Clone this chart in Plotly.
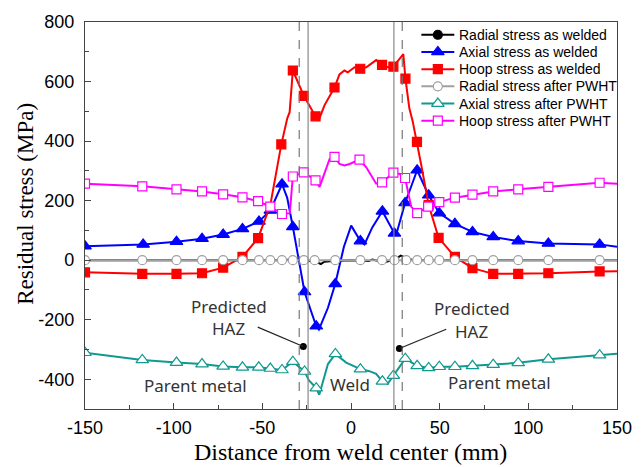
import plotly.graph_objects as go

# ---------------- data ----------------
# Hoop stress as welded
hoop_w_x = [-150, -117.7, -98.4, -84, -72.1, -61.2, -52.4, -45.5, -39.3, -35.9, -34.6, -32.8, -26.6, -20, -18.1,
            -14.9, -9.3, -6.5, -3.7, -1.8, 2, 5.2, 8.6, 14.2, 17.5, 20.7, 23.9, 27.3, 29.5, 30.7, 32.9, 34.8,
            37.2, 39.5, 43.8, 46, 49.4, 58.6, 68.5, 80.2, 94.3, 111.3, 140.2, 150]
hoop_w_y = [-41, -46, -46, -44, -25, 11, 74, 185, 389, 477, 497, 637, 552, 483, 472,
            521, 580, 624, 637, 631, 648, 643, 648, 672, 656, 648, 650, 678, 692, 610, 510, 466,
            397, 323, 185, 141, 75, 11, -27, -46, -46, -44, -38, -37]
hoop_w_m = [1, 1, 1, 1, 1, 1, 1, 0, 1, 0, 0, 1, 1, 1, 0,
            0, 1, 0, 0, 0, 0, 1, 0, 0, 1, 0, 1, 0, 0, 1, 0, 0,
            1, 0, 1, 0, 1, 1, 1, 1, 1, 1, 1, 0]

# Axial stress as welded
ax_w_x = [-150, -117.2, -98.4, -84, -72.1, -61.2, -51.9, -45.5, -38.9, -36, -32.8, -29.5, -26.2, -19.6, -18.1,
          -13, -8.9, -4, 0.1, 5.3, 7.6, 12, 17.7, 24.5, 25.4, 30.5, 37.3, 43.8, 49.8, 58.6, 68.5, 80.2,
          94.3, 111.3, 140.2, 150]
ax_w_y = [47, 53, 62, 72, 86, 105, 130, 167, 255, 210, 112, 0, -107, -222, -233,
          -160, -80, 45, 116, 64, 53, 110, 164, 90, 84, 192, 302, 218, 158, 122, 95, 78,
          64, 56, 53, 45]
ax_w_m = [1, 1, 1, 1, 1, 1, 1, 1, 1, 0, 1, 0, 1, 1, 0,
          0, 1, 0, 0, 1, 0, 0, 1, 1, 0, 1, 1, 1, 1, 1, 1, 1,
          1, 1, 1, 0]

# Radial stress as welded
rad_w_x = [-150, -40, -30, -25, -20, -17, -15, -10, 0, 10, 12, 15, 20, 25, 28, 30, 35, 50, 150]
rad_w_y = [0, 0, 3, -2, -5, -13, -5, -3, 0, -3, 2, -2, -5, 3, 15, 10, 0, 0, 0]

# Radial stress after PWHT
rad_p_x = [-150, -117.7, -98.4, -84, -72.1, -61.2, -51.9, -45.5, -38.9, -32.8, -26.6, -20.5, -8.9,
           5.3, 17.5, 24.5, 31.1, 37.3, 43.8, 49.8, 58.6, 68.5, 80.2, 94.3, 111.3, 140.2, 150]
rad_p_y = [0, 0, 0, 0, 0, 0, 0, 0, 0, 0, 0, 0, 0,
           0, 0, 0, 0, 0, 0, 0, 0, 0, 0, 0, 0, 0, 0]
rad_p_m = [1, 1, 1, 1, 1, 1, 1, 1, 1, 1, 1, 1, 1,
           1, 1, 1, 1, 1, 1, 1, 1, 1, 1, 1, 1, 1, 0]

# Axial stress after PWHT
ax_p_x = [-150, -117.7, -98.4, -84, -72.1, -61.2, -52, -45.5, -38.9, -32.8, -26.2, -23.7, -19.6, -17.9,
          -13, -8.8, -2.7, 5.3, 10, 14.2, 17.7, 20.7, 23.9, 30.6, 37.3, 43.8, 49.8, 58.6, 68.5, 80.2,
          94.3, 111.3, 140.2, 150]
ax_p_y = [-311, -335, -344, -349, -357, -360, -360, -364, -369, -341, -374, -404, -430, -452,
          -349, -315, -344, -366, -372, -382, -407, -415, -388, -331, -355, -362, -358, -358, -355, -351,
          -345, -333, -319, -314]
ax_p_m = [1, 1, 1, 1, 1, 1, 1, 1, 1, 1, 1, 0, 1, 0,
          0, 1, 0, 1, 0, 0, 1, 0, 1, 1, 1, 1, 1, 1, 1, 1,
          1, 1, 1, 0]

# Hoop stress after PWHT
hoop_p_x = [-150, -117.7, -98.4, -84, -72.1, -61.2, -52.4, -45.5, -38.9, -34.5, -32.8, -26.6, -20, -17.7,
            -12.1, -9.3, -6.5, -3.7, -0.8, 4.8, 8.6, 14.2, 17.5, 23.9, 27.3, 30.5, 33.9, 37.3, 43.5, 49.8,
            58.6, 68.5, 80.2, 94.3, 111.3, 140.2, 150]
hoop_p_y = [257, 248, 238, 231, 221, 211, 198, 180, 155, 158, 281, 295, 268, 246,
            339, 347, 323, 318, 323, 338, 312, 257, 261, 294, 290, 276, 180, 158, 180, 195,
            210, 220, 231, 238, 246, 260, 257]
hoop_p_m = [1, 1, 1, 1, 1, 1, 1, 1, 1, 0, 1, 1, 1, 0,
            0, 1, 0, 0, 0, 1, 0, 0, 1, 1, 0, 1, 0, 1, 1, 1,
            1, 1, 1, 1, 1, 1, 0]

legend_names = ["Radial stress as welded", "Axial stress as welded", "Hoop stress as welded",
                "Radial stress after PWHT", "Axial stress after PWHT", "Hoop stress after PWHT"]

x_ticks = [-150, -100, -50, 0, 50, 100, 150]
y_ticks = [-400, -200, 0, 200, 400, 600, 800]
haz_solid = [-24.2, 24.2]
haz_dash = [-29.2, 28.9]

TEAL = "#11998f"
GRAY = "#a0a0a0"

series = [
    # x, y, mask, color, symbol, fill, size
    (rad_w_x, rad_w_y, None, "black", "circle", "black", 9),
    (ax_w_x, ax_w_y, ax_w_m, "#0000ff", "triangle-up", "#0000ff", 11),
    (hoop_w_x, hoop_w_y, hoop_w_m, "#ff0000", "square", "#ff0000", 9),
    (rad_p_x, rad_p_y, rad_p_m, GRAY, "circle", "white", 9),
    (ax_p_x, ax_p_y, ax_p_m, TEAL, "triangle-up", "white", 11),
    (hoop_p_x, hoop_p_y, hoop_p_m, "#ff00ff", "square", "white", 9),
]

# plot-area pixel geometry (644x467 page)
L, R, T, B = 85, 618, 15, 409


def px2paper_x(px):
    return (px - L) / (R - L)


def px2paper_y(py):
    return (B - py) / (B - T)


fig = go.Figure()
for xs, ys, mask, col, sym, fill, size in series:
    fig.add_trace(go.Scatter(x=xs, y=ys, mode="lines", line=dict(color=col, width=2),
                             showlegend=False, hoverinfo="skip"))
    if mask is not None:
        mx = [a for a, m in zip(xs, mask) if m]
        my = [b for b, m in zip(ys, mask) if m]
        fig.add_trace(go.Scatter(x=mx, y=my, mode="markers",
                                 marker=dict(symbol=sym, size=size, color=fill,
                                             line=dict(color=col, width=1.2)),
                                 showlegend=False, hoverinfo="skip"))

# HAZ dots
fig.add_trace(go.Scatter(x=[-26.9, 27.3], y=[-290, -297], mode="markers",
                         marker=dict(color="black", size=7), showlegend=False, hoverinfo="skip"))

# custom legend (drawn on an overlay axis spanning the plot area in 0..1 units)
leg_x0, leg_x1, leg_txt = px2paper_x(422), px2paper_x(455), px2paper_x(458)
annotations = []
for i, (name, s) in enumerate(zip(legend_names, series)):
    xs, ys, mask, col, sym, fill, size = s
    yc = px2paper_y(28 + i * 17.5)
    fig.add_trace(go.Scatter(x=[leg_x0, leg_x1], y=[yc, yc], xaxis="x2", yaxis="y2", mode="lines",
                             line=dict(color=col, width=2), showlegend=False, hoverinfo="skip"))
    fig.add_trace(go.Scatter(x=[(leg_x0 + leg_x1) / 2], y=[yc], xaxis="x2", yaxis="y2", mode="markers",
                             marker=dict(symbol=sym, size=size, color=fill, line=dict(color=col, width=1.2)),
                             showlegend=False, hoverinfo="skip"))
    annotations.append(dict(x=leg_txt, y=yc, xref="x2", yref="y2", text=name, showarrow=False,
                            xanchor="left", yanchor="middle",
                            font=dict(family="Arial, Liberation Sans, sans-serif", size=14, color="black")))

shapes = []
for xv in haz_solid:
    shapes.append(dict(type="line", xref="x", yref="paper", x0=xv, x1=xv, y0=0, y1=1,
                       line=dict(color="#888888", width=1.2)))
for xv in haz_dash:
    shapes.append(dict(type="line", xref="x", yref="paper", x0=xv, x1=xv, y0=0, y1=1,
                       line=dict(color="#777777", width=1.2, dash="dash")))
shapes.append(dict(type="line", xref="x", yref="y", x0=-26.9, y0=-290, x1=-52.6, y1=-225,
                   line=dict(color="#222222", width=1.2)))
shapes.append(dict(type="line", xref="x", yref="y", x0=27.3, y0=-297, x1=53.7, y1=-232,
                   line=dict(color="#222222", width=1.2)))

afont = dict(family="Noto Sans, DejaVu Sans, sans-serif", size=17, color="#333333")
annotations += [
    dict(x=-68.9, y=-155, text="Predicted", xref="x", yref="y", showarrow=False, font=afont),
    dict(x=-68.9, y=-229, text="HAZ", xref="x", yref="y", showarrow=False, font=afont),
    dict(x=68.0, y=-164, text="Predicted", xref="x", yref="y", showarrow=False, font=afont),
    dict(x=68.0, y=-238, text="HAZ", xref="x", yref="y", showarrow=False, font=afont),
    dict(x=-87.9, y=-421, text="Parent metal", xref="x", yref="y", showarrow=False, font=afont),
    dict(x=-0.8, y=-417, text="Weld", xref="x", yref="y", showarrow=False, font=afont),
    dict(x=83.8, y=-412, text="Parent metal", xref="x", yref="y", showarrow=False, font=afont),
    dict(x=px2paper_x(350.5), y=px2paper_y(453), xref="paper", yref="paper", showarrow=False,
         xanchor="center", yanchor="middle",
         text="Distance from weld center (mm)",
         font=dict(family="Liberation Serif, Times New Roman, serif", size=24, color="black")),
    dict(x=px2paper_x(26), y=px2paper_y(200), xref="paper", yref="paper", showarrow=False, textangle=-90,
         xanchor="center", yanchor="middle",
         text="Residual stress (MPa)",
         font=dict(family="Liberation Serif, Times New Roman, serif", size=23, color="black")),
]

tickfont = dict(family="Arial, Liberation Sans, sans-serif", size=18, color="black")
fig.update_layout(
    width=644, height=467,
    margin=dict(l=L, r=644 - R, t=T, b=467 - B),
    paper_bgcolor="white", plot_bgcolor="white",
    shapes=shapes, annotations=annotations, showlegend=False,
    xaxis=dict(range=[-150, 150], tickvals=x_ticks, ticktext=[str(v) for v in x_ticks],
               ticks="inside", ticklen=6, tickcolor="#444", tickfont=tickfont,
               minor=dict(ticks="inside", ticklen=4, dtick=25, tick0=0, tickcolor="#444"),
               showline=True, linecolor="#444", linewidth=1.3, mirror=True,
               showgrid=False, zeroline=False, ticklabelstandoff=2),
    yaxis=dict(range=[-500, 800], tickvals=y_ticks, ticktext=[str(v) for v in y_ticks],
               ticks="inside", ticklen=6, tickcolor="#444", tickfont=tickfont,
               minor=dict(ticks="inside", ticklen=4, dtick=100, tick0=0, tickcolor="#444"),
               showline=True, linecolor="#444", linewidth=1.3, mirror=True,
               showgrid=False, zeroline=False, ticklabelstandoff=6),
    xaxis2=dict(range=[0, 1], overlaying="x", visible=False, fixedrange=True),
    yaxis2=dict(range=[0, 1], overlaying="y", visible=False, fixedrange=True),
)

fig.write_html("out.html")
